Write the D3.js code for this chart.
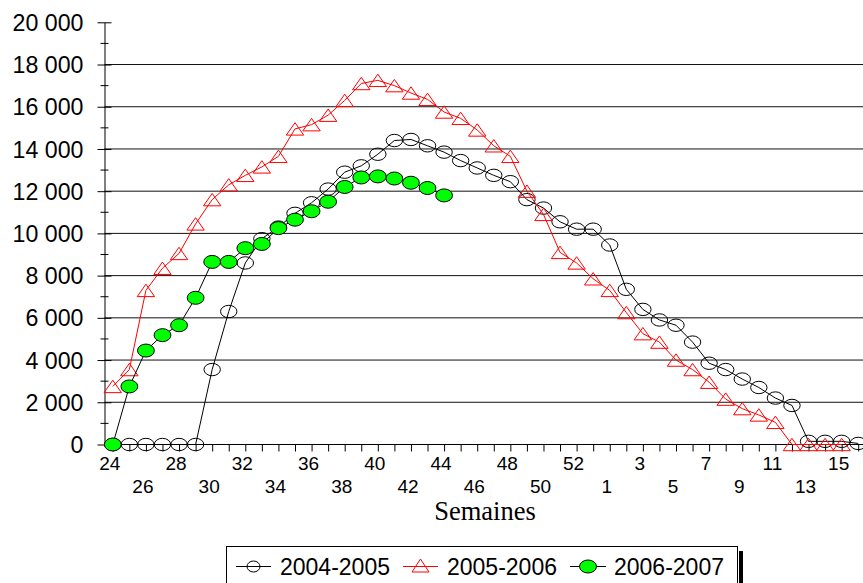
<!DOCTYPE html>
<html>
<head>
<meta charset="utf-8">
<script src="https://cdn.jsdelivr.net/npm/d3@7/dist/d3.min.js"></script>
<style>
  html, body { margin: 0; padding: 0; background: #fff; }
  svg { display: block; }
</style>
</head>
<body>
<svg id="chart" width="863" height="583"></svg>
<script>
// ---- data ----
const categories = ["24","25","26","27","28","29","30","31","32","33","34","35","36","37","38","39","40","41","42","43","44","45","46","47","48","49","50","51","52","53","1","2","3","4","5","6","7","8","9","10","11","12","13","14","15","16"];
const seriesNames = ["2004-2005", "2005-2006", "2006-2007"];
const s2004_2005 = [0,0,0,0,0,0,3550,6300,8600,9750,10300,10950,11450,12100,12900,13200,13750,14400,14450,14150,13850,13450,13100,12750,12450,11600,11200,10550,10200,10200,9450,7350,6400,5900,5650,4850,3850,3550,3100,2700,2200,1850,150,150,150,50];
const s2005_2006 = [2750,3550,7300,8350,9050,10450,11600,12300,12750,13150,13650,14950,15150,15600,16300,17100,17250,17000,16650,16350,15750,15450,14900,14150,13650,12000,10900,9100,8600,7850,7300,6250,5250,4850,4000,3550,2950,2150,1700,1400,1050,0,0,0,0];
const s2006_2007 = [0,2750,4450,5180,5650,6950,8650,8650,9300,9500,10250,10650,11050,11500,12200,12650,12700,12600,12400,12150,11800];
const yTickValues = [0,2000,4000,6000,8000,10000,12000,14000,16000,18000,20000];
const yTickLabels = ["0","2 000","4 000","6 000","8 000","10 000","12 000","14 000","16 000","18 000","20 000"];
const yMinorTicks = [1000,3000,5000,7000,9000,11000,13000,15000,17000,19000];
const xTitle = "Semaines";

// ---- layout ----
const svg = d3.select("#chart");
const W = 863, H = 583;
svg.append("rect").attr("width", W).attr("height", H).attr("fill", "#fff");

const x = d3.scalePoint().domain(categories).range([104.5, 866.5]).padding(0.5);
const y = d3.scaleLinear().domain([0, 20000]).range([444.5, 22.3]);
const axisX = 104.5;
const sans = "'Liberation Sans', Arial, sans-serif";

// gridlines
svg.append("g").selectAll("line").data(yTickValues.filter(v => v > 0 && v < 20000)).join("line")
  .attr("x1", axisX).attr("x2", W).attr("y1", d => y(d)).attr("y2", d => y(d))
  .attr("stroke", "#111").attr("stroke-width", 1);

// y axis
const yAxis = d3.axisLeft(y).tickValues(yTickValues).tickFormat((d, i) => yTickLabels[i])
  .tickSizeInner(7).tickSizeOuter(0).tickPadding(14);
const gy = svg.append("g").attr("transform", `translate(${axisX},0)`).call(yAxis);
gy.select(".domain").attr("stroke", "#000");
gy.selectAll(".tick line").attr("x1", -7).attr("x2", 7).attr("stroke", "#000");
gy.selectAll(".tick text").attr("font-family", sans).attr("font-size", 23.2).attr("fill", "#000")
  .attr("x", -21).attr("dy", "0.35em");
svg.append("g").selectAll("line").data(yMinorTicks).join("line")
  .attr("x1", axisX - 4).attr("x2", axisX + 4).attr("y1", d => y(d)).attr("y2", d => y(d))
  .attr("stroke", "#000");

// x axis
const xAxis = d3.axisBottom(x).tickSizeInner(7).tickSizeOuter(0).tickFormat(() => "");
const gx = svg.append("g").attr("transform", `translate(0,${y(0)})`).call(xAxis);
gx.select(".domain").attr("d", `M${axisX},0H${W}`).attr("stroke", "#000");
gx.selectAll(".tick line").attr("stroke", "#000");
svg.append("g").selectAll("text").data(categories.filter((c, i) => i % 2 === 0)).join("text")
  .attr("x", d => x(d) - 3)
  .attr("y", (d, i) => i % 2 === 0 ? 470 : 493)
  .attr("text-anchor", "middle").attr("font-family", sans).attr("font-size", 19).attr("fill", "#000")
  .text(d => d);

svg.append("text").attr("x", 485).attr("y", 520).attr("text-anchor", "middle")
  .attr("font-family", "'Liberation Serif', 'Times New Roman', serif").attr("font-size", 26.5)
  .attr("fill", "#000").text(xTitle);

// series
const line = d3.line().x((d, i) => x(categories[i])).y(d => y(d));
const tri = (cx, cy, hw, hh) => `M${cx},${cy - hh}L${cx + hw},${cy + hh}L${cx - hw},${cy + hh}Z`;

// 2004-2005
svg.append("path").datum(s2004_2005).attr("d", line).attr("fill", "none").attr("stroke", "#000").attr("stroke-width", 1);
svg.append("g").selectAll("ellipse").data(s2004_2005).join("ellipse")
  .attr("cx", (d, i) => x(categories[i])).attr("cy", d => y(d))
  .attr("rx", 8.2).attr("ry", 6.2).attr("fill", "none").attr("stroke", "#000").attr("stroke-width", 1);

// 2005-2006
svg.append("path").datum(s2005_2006).attr("d", line).attr("fill", "none").attr("stroke", "#ff0000").attr("stroke-width", 1);
svg.append("g").selectAll("path").data(s2005_2006).join("path")
  .attr("d", (d, i) => tri(x(categories[i]), y(d), 8.7, 6.2))
  .attr("fill", "none").attr("stroke", "#ff0000").attr("stroke-width", 1);

// 2006-2007
svg.append("path").datum(s2006_2007).attr("d", line).attr("fill", "none").attr("stroke", "#000").attr("stroke-width", 1);
svg.append("g").selectAll("ellipse").data(s2006_2007).join("ellipse")
  .attr("cx", (d, i) => x(categories[i])).attr("cy", d => y(d))
  .attr("rx", 8.4).attr("ry", 6.5).attr("fill", "#00ff00").attr("stroke", "#000").attr("stroke-width", 1);

// legend
const lg = svg.append("g");
lg.append("rect").attr("x", 739).attr("y", 551).attr("width", 4).attr("height", 40).attr("fill", "#000");
lg.append("rect").attr("x", 226.5).attr("y", 546.5).attr("width", 511).attr("height", 50)
  .attr("fill", "#fff").attr("stroke", "#000").attr("stroke-width", 1);
const ly = 566.5;
const items = [
  {name: seriesNames[0], x0: 236, x1: 271, tx: 280, color: "#000", type: "circle"},
  {name: seriesNames[1], x0: 403, x1: 438, tx: 447, color: "#ff0000", type: "tri"},
  {name: seriesNames[2], x0: 570, x1: 606, tx: 614, color: "#000", type: "green"}
];
items.forEach(it => {
  const cx = (it.x0 + it.x1) / 2;
  lg.append("line").attr("x1", it.x0).attr("x2", it.x1).attr("y1", ly).attr("y2", ly).attr("stroke", it.color);
  if (it.type === "circle") {
    lg.append("ellipse").attr("cx", cx).attr("cy", ly).attr("rx", 6.5).attr("ry", 5.5).attr("fill", "none").attr("stroke", "#000");
  } else if (it.type === "tri") {
    lg.append("path").attr("d", tri(cx, ly - 1, 8.5, 6.5)).attr("fill", "none").attr("stroke", "#ff0000");
  } else {
    lg.append("ellipse").attr("cx", cx).attr("cy", ly).attr("rx", 8.5).attr("ry", 6.5).attr("fill", "#00ff00").attr("stroke", "#000");
  }
  lg.append("text").attr("x", it.tx).attr("y", ly + 8).attr("font-family", sans).attr("font-size", 23)
    .attr("fill", "#000").text(it.name);
});
</script>
</body>
</html>
